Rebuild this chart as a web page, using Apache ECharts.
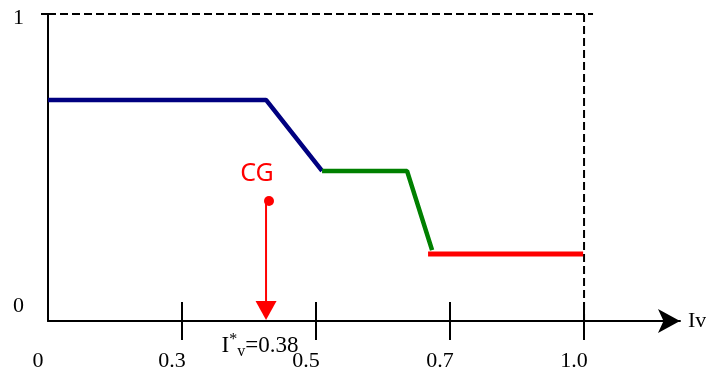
<!DOCTYPE html>
<html><head><meta charset="utf-8">
<script src="https://cdn.jsdelivr.net/npm/echarts@6/dist/echarts.min.js"></script>
<style>html,body{margin:0;padding:0;background:#fff}#c{width:706px;height:373px}</style>
</head><body><div id="c"></div>
<script>
// tick labels (x positions are evenly spaced categories 0..4)
const xTickLabels = ['0', '0.3', '0.5', '0.7', '1.0'];
const yTickLabels = ['0', '1'];
// piecewise segments [x, y]
const navySeg = [[0, 0.72], [1.627, 0.72], [2.045, 0.489]];
const greenSeg = [[2.045, 0.489], [2.679, 0.489], [2.866, 0.231]];
const redSeg = [[2.836, 0.218], [3.993, 0.218]];
const boxTop = [[0, 1], [4.067, 1]];
const boxRight = [[4, 1], [4, 0]];
const cgPoint = [[1.649, 0.391]];
const cgArrow = [[1.627, 0.391, 0]];
const cgLabel = 'CG';
const ivLabel = '{a|I}{sup|*}{sub|v}{a|=0.38}';
const axisName = 'Iv';

const serif = 'Liberation Serif';
const chart = echarts.init(document.getElementById('c'));
const xCommon = { type: 'value', min: 0, max: 4.716, position: 'bottom' };
chart.setOption({
  animation: false,
  grid: { left: 48, top: 14, width: 632, height: 307, containLabel: false, outerBoundsMode: 'none' },
  xAxis: [
    Object.assign({}, xCommon, {
      axisLine: { show: true, lineStyle: { color: '#000', width: 2 }, symbol: ['none', 'arrow'], symbolSize: [18, 22] },
      axisTick: { show: true, length: 19, lineStyle: { color: '#000', width: 2 }, customValues: [1, 2, 3, 4] },
      axisLabel: { show: true, margin: 29, color: '#000', fontFamily: serif, fontSize: 22, padding: [0, 20, 0, 0],
        customValues: [0, 1, 2, 3, 4], formatter: v => xTickLabels[Math.round(v)] },
      splitLine: { show: false },
      name: axisName, nameLocation: 'end', nameGap: 8,
      nameTextStyle: { color: '#000', fontFamily: serif, fontSize: 22 }
    }),
    Object.assign({}, xCommon, {
      axisLine: { show: false },
      axisTick: { show: true, inside: true, length: 19, lineStyle: { color: '#000', width: 2 }, customValues: [1, 2, 3, 4] },
      axisLabel: { show: false },
      splitLine: { show: false }
    })
  ],
  yAxis: {
    type: 'value', min: 0, max: 1,
    axisLine: { show: true, lineStyle: { color: '#000', width: 2 } },
    axisTick: { show: true, length: 7, lineStyle: { color: '#000', width: 2 }, customValues: [1] },
    axisLabel: { show: true, margin: 24, color: '#000', fontFamily: serif, fontSize: 22,
      customValues: [0, 1],
      formatter: v => v === 0 ? '{lo|' + yTickLabels[0] + '}' : '{hi|' + yTickLabels[1] + '}',
      rich: { lo: { padding: [0, 0, 30, 0], fontFamily: serif, fontSize: 22, color: '#000' },
              hi: { padding: [9, 0, 0, 0], fontFamily: serif, fontSize: 22, color: '#000' } } },
    splitLine: { show: false }
  },
  series: [
    { type: 'line', data: boxTop, symbol: 'none', lineStyle: { color: '#000', width: 2, type: [8, 4] } },
    { type: 'line', data: boxRight, symbol: 'none', lineStyle: { color: '#000', width: 2, type: [8, 4] } },
    { type: 'line', data: navySeg, symbol: 'none', lineStyle: { color: '#000080', width: 4.5 } },
    { type: 'line', data: greenSeg, symbol: 'none', lineStyle: { color: '#008000', width: 4.5 } },
    { type: 'line', data: redSeg, symbol: 'none', lineStyle: { color: '#ff0000', width: 5 } },
    { type: 'scatter', data: cgPoint, symbol: 'circle', symbolSize: 10, itemStyle: { color: '#ff0000', opacity: 1 },
      label: { show: true, position: 'inside', offset: [-12, -27], formatter: cgLabel, opacity: 1,
        color: '#ff0000', fontFamily: 'Noto Sans', fontSize: 25 } },
    { type: 'custom', data: cgArrow, clip: false,
      renderItem: (params, api) => {
        const p1 = api.coord([api.value(0), api.value(1)]);
        const p2 = api.coord([api.value(0), api.value(2)]);
        const ah = 20, hw = 10.5;
        return { type: 'group', children: [
          { type: 'line', shape: { x1: p1[0], y1: p1[1], x2: p2[0], y2: p2[1] - ah + 1 },
            style: { stroke: '#ff0000', lineWidth: 2 } },
          { type: 'polygon', shape: { points: [[p2[0] - hw, p2[1] - ah], [p2[0] + hw, p2[1] - ah], [p2[0], p2[1] - 1]] },
            style: { fill: '#ff0000' } },
          { type: 'text', x: p2[0] - 6, y: p2[1] + 25,
            style: { text: ivLabel, align: 'center', verticalAlign: 'middle',
              rich: {
                a: { fontFamily: serif, fontSize: 23, color: '#ff0000', lineHeight: 28, verticalAlign: 'middle' },
                sup: { fontFamily: serif, fontSize: 16, color: '#ff0000', verticalAlign: 'top', lineHeight: 28 },
                sub: { fontFamily: serif, fontSize: 16, color: '#ff0000', verticalAlign: 'bottom', lineHeight: 28 }
              } } }
        ] };
      } }
  ]
});
</script></body></html>
